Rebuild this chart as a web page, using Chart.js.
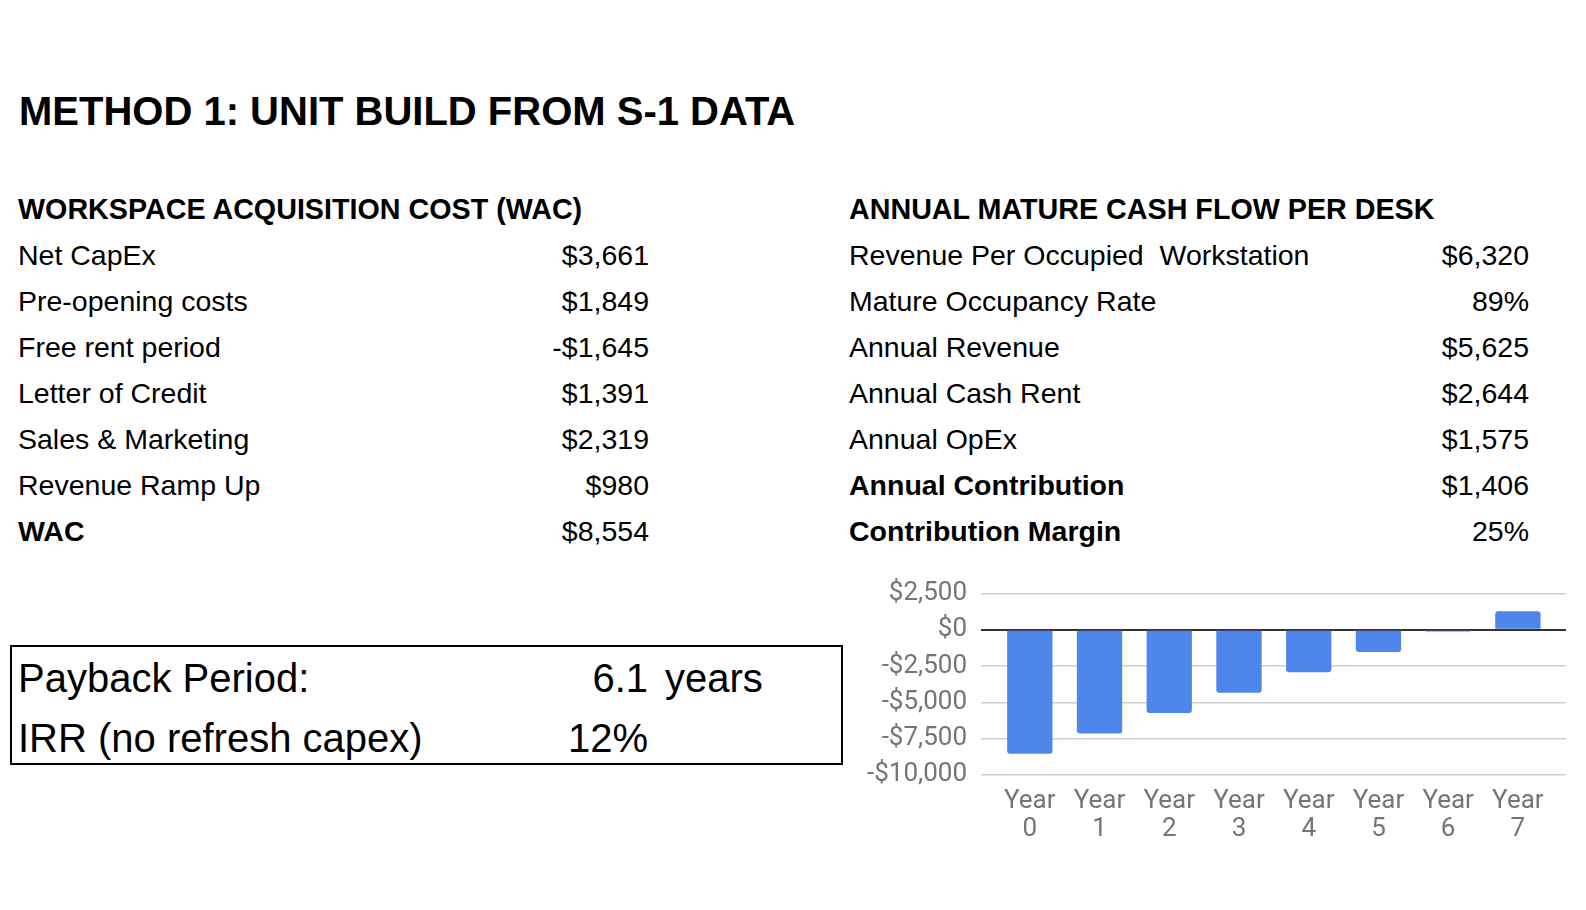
<!DOCTYPE html>
<html>
<head>
<meta charset="utf-8">
<script src="https://cdn.jsdelivr.net/npm/chart.js@4.4.1/dist/chart.umd.min.js"></script>
<style>
  html, body { margin:0; padding:0; background:#fff; }
  body { width:1586px; height:910px; position:relative; overflow:hidden; font-family:"Liberation Sans", Arial, sans-serif; color:#000; }
  .t { position:absolute; white-space:pre; }
  .title { left:19px; top:88px; font-size:40px; line-height:46px; font-weight:bold; }
  .head { font-size:28.7px; line-height:40px; font-weight:bold; }
  .row { font-size:28.5px; line-height:40px; }
  .b { font-weight:bold; }
  .r { text-align:right; }
  #box { position:absolute; left:10px; top:645px; width:829px; height:116px; border:2px solid #000; }
  .big { font-size:40px; line-height:50px; }
  #chartWrap { position:absolute; left:850px; top:564px; width:736px; height:280px; }
</style>
</head>
<body>
<div class="t title">METHOD 1: UNIT BUILD FROM S-1 DATA</div>
<div id="tables"></div>
<div id="box"></div>
<div id="chartWrap"><canvas id="c"></canvas></div>
<script>
// ---- Data ----
const wacHeading = "WORKSPACE ACQUISITION COST (WAC)";
const wacLabels = ["Net CapEx", "Pre-opening costs", "Free rent period", "Letter of Credit", "Sales & Marketing", "Revenue Ramp Up", "WAC"];
const wacValues = ["$3,661", "$1,849", "-$1,645", "$1,391", "$2,319", "$980", "$8,554"];
const wacBold = [false, false, false, false, false, false, true];

const flowHeading = "ANNUAL MATURE CASH FLOW PER DESK";
const flowLabels = ["Revenue Per Occupied  Workstation", "Mature Occupancy Rate", "Annual Revenue", "Annual Cash Rent", "Annual OpEx", "Annual Contribution", "Contribution Margin"];
const flowValues = ["$6,320", "89%", "$5,625", "$2,644", "$1,575", "$1,406", "25%"];
const flowBold = [false, false, false, false, false, true, true];

const summaryLabels = ["Payback Period:", "IRR (no refresh capex)"];
const summaryValues = ["6.1", "12%"];
const summaryUnits = ["years", ""];

const yearCategories = ["Year 0", "Year 1", "Year 2", "Year 3", "Year 4", "Year 5", "Year 6", "Year 7"];
const cumulativeCashFlow = [-8554, -7148, -5742, -4336, -2930, -1524, -118, 1288];
const yTickValues = [2500, 0, -2500, -5000, -7500, -10000];

// ---- Tables ----
const tables = document.getElementById('tables');
function addText(txt, cls, css) {
  const d = document.createElement('div');
  d.className = 't ' + cls;
  d.textContent = txt;
  Object.assign(d.style, css);
  tables.appendChild(d);
}
const headCenter = 208.9, rowStart = 254.6, rowStep = 46.1, lh = 40;
addText(wacHeading, 'head', {left:'18px', top:(headCenter - lh/2) + 'px'});
addText(flowHeading, 'head', {left:'849px', top:(headCenter - lh/2) + 'px'});
wacLabels.forEach((l, i) => {
  const top = (rowStart + i*rowStep - lh/2) + 'px';
  addText(l, 'row' + (wacBold[i] ? ' b' : ''), {left:'18px', top});
  addText(wacValues[i], 'row r', {right:(1586-649) + 'px', top});
});
flowLabels.forEach((l, i) => {
  const top = (rowStart + i*rowStep - lh/2) + 'px';
  addText(l, 'row' + (flowBold[i] ? ' b' : ''), {left:'849px', top});
  addText(flowValues[i], 'row r', {right:(1586-1529) + 'px', top});
});
const sumCenters = [677.7, 737.5];
summaryLabels.forEach((l, i) => {
  const top = (sumCenters[i] - 25) + 'px';
  addText(l, 'big', {left:'18px', top});
  addText(summaryValues[i], 'big r', {right:(1586-648) + 'px', top});
  if (summaryUnits[i]) addText(summaryUnits[i], 'big', {left:'665px', top});
});

// ---- Chart ----
const money = v => (v < 0 ? '-$' : '$') + Math.abs(v).toLocaleString('en-US');
new Chart(document.getElementById('c'), {
  type: 'bar',
  data: {
    datasets: [{
      data: cumulativeCashFlow.map((v, i) => ({x: i, y: v})),
      backgroundColor: '#4f86ec',
      borderRadius: 3,
      categoryPercentage: 0.65,
      barPercentage: 1.0
    }]
  },
  options: {
    responsive: true,
    maintainAspectRatio: false,
    animation: false,
    layout: { padding: { top: 21.7, right: 20, left: 0, bottom: 0 } },
    plugins: { legend: { display: false }, tooltip: { enabled: false } },
    scales: {
      x: {
        type: 'linear',
        offset: false,
        min: -0.70,
        max: 7.69,
        afterBuildTicks: s => { s.ticks = yearCategories.map((_, i) => ({value: i})); },
        afterFit: s => { s.height = 69.3; },
        grid: { display: false, drawTicks: false, offset: false },
        border: { display: false },
        ticks: {
          autoSkip: false,
          maxRotation: 0,
          padding: 13,
          color: '#757575',
          font: { family: 'Roboto', size: 26, lineHeight: 1.06 },
          callback: v => yearCategories[v] ? yearCategories[v].split(' ') : ''
        }
      },
      y: {
        min: -10000,
        max: 2500,
        afterBuildTicks: s => { s.ticks = yTickValues.map(v => ({value: v})); },
        afterFit: s => { s.width = 131; },
        grid: {
          drawTicks: false,
          color: ctx => ctx.tick && ctx.tick.value === 0 ? '#333333' : '#cfcfcf',
          lineWidth: ctx => ctx.tick && ctx.tick.value === 0 ? 2 : 1.5
        },
        border: { display: false },
        ticks: {
          padding: 14,
          color: '#757575',
          font: { family: 'Roboto', size: 26 },
          callback: v => money(v)
        }
      }
    }
  }
});
</script>
</body>
</html>
